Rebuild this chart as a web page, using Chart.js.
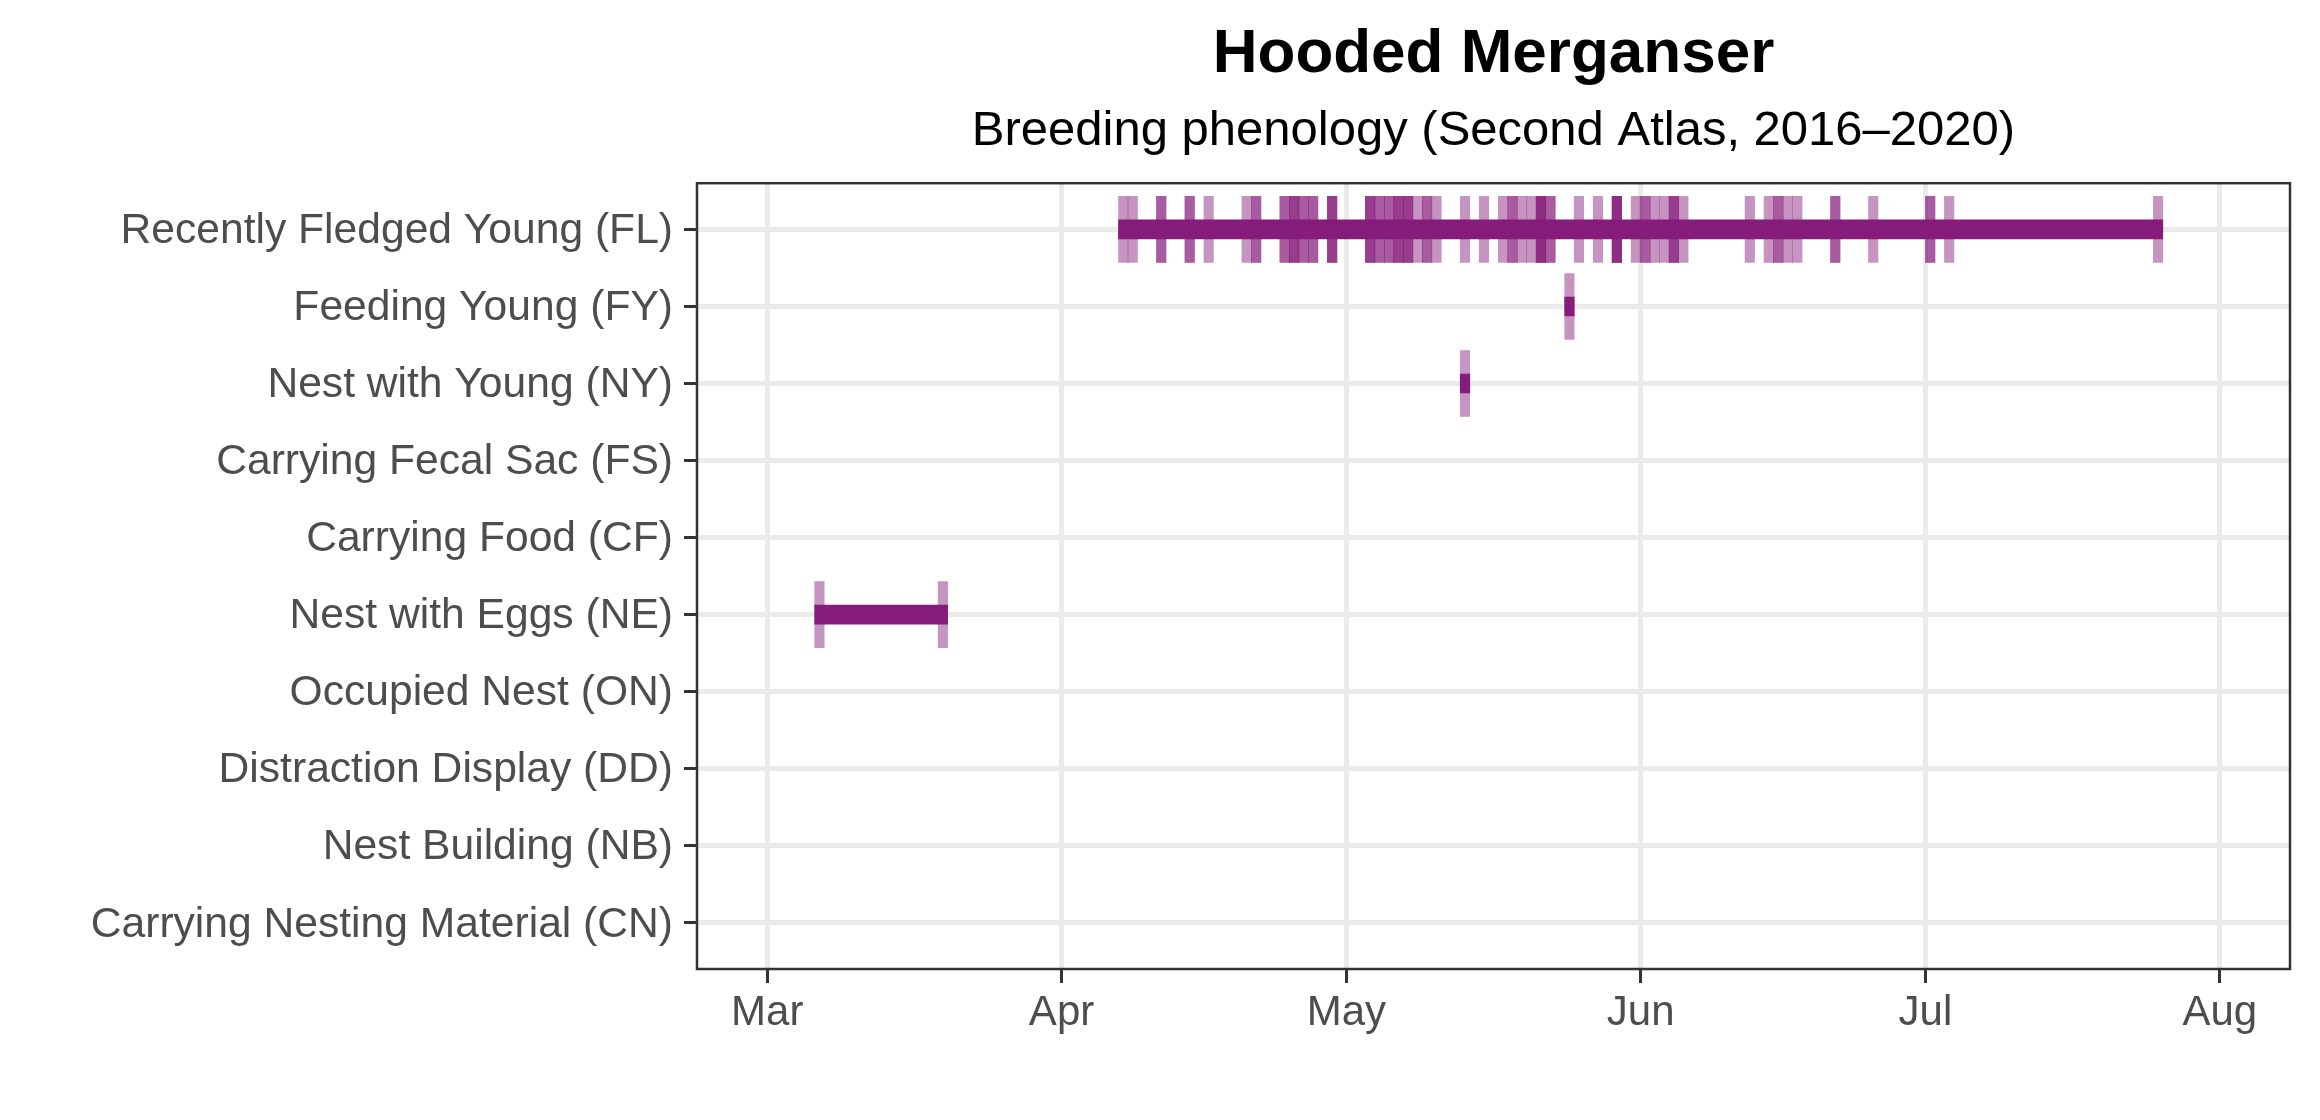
<!DOCTYPE html>
<html>
<head>
<meta charset="utf-8">
<script src="https://cdn.jsdelivr.net/npm/chart.js@4.4.1/dist/chart.umd.min.js"></script>
<style>
  html, body { margin: 0; padding: 0; background: #ffffff; }
  #wrap { width: 2320px; height: 1120px; }
</style>
</head>
<body>
<div id="wrap"><canvas id="phenology" width="2320" height="1120"></canvas></div>
<script>
// Breeding codes, top to bottom
const rowLabels = [
  'Recently Fledged Young (FL)',
  'Feeding Young (FY)',
  'Nest with Young (NY)',
  'Carrying Fecal Sac (FS)',
  'Carrying Food (CF)',
  'Nest with Eggs (NE)',
  'Occupied Nest (ON)',
  'Distraction Display (DD)',
  'Nest Building (NB)',
  'Carrying Nesting Material (CN)'
];

// month ticks as day of year
const monthTicks = [60, 91, 121, 152, 182, 213];
const monthLabels = ['Mar', 'Apr', 'May', 'Jun', 'Jul', 'Aug'];

// observation days (day of year), repeated days = several records
const flDays = [97, 98, 101, 101, 104, 104, 106, 110, 111, 111, 114, 114,
  115, 115, 115, 116, 116, 117, 117, 119, 119, 119, 123, 123, 123, 124, 124,
  125, 125, 126, 126, 126, 127, 127, 127, 128, 129, 129, 130, 133, 135, 137,
  138, 138, 139, 140, 141, 141, 141, 141, 142, 142, 145, 147, 149, 149, 149,
  149, 151, 152, 152, 153, 154, 155, 155, 155, 156, 163, 165, 166, 166, 167,
  168, 172, 172, 176, 182, 182, 184, 206];
const fyDays = [144];
const nyDays = [133];
const fsDays = [];
const cfDays = [];
const neDays = [65, 78];
const onDays = [];
const ddDays = [];
const nbDays = [];
const cnDays = [];

const purple = 'rgb(133, 27, 123)';
const purpleLight = 'rgba(133, 27, 123, 0.47)';
const textGrey = '#4D4D4D';
const fontFamily = '"Liberation Sans", Arial, Helvetica, sans-serif';

Chart.defaults.font.family = fontFamily;

document.addEventListener('DOMContentLoaded', function () {
  const dayRows = [flDays, fyDays, nyDays, fsDays, cfDays, neDays, onDays, ddDays, nbDays, cnDays];

  // one short bar per record, one long bar per code from first to last record
  const marks = [];
  const ranges = [];
  dayRows.forEach((days, row) => {
    days.forEach(d => marks.push({ x: [d, d + 1], y: row }));
    if (days.length) {
      ranges.push({ x: [Math.min(...days), Math.max(...days) + 1], y: row });
    }
  });

  const panelBorder = {
    id: 'panelBorder',
    afterDatasetsDraw(chart) {
      const { ctx, chartArea: a } = chart;
      ctx.save();
      ctx.strokeStyle = '#333333';
      ctx.lineWidth = 2.5;
      ctx.strokeRect(a.left, a.top, a.right - a.left, a.bottom - a.top);
      ctx.restore();
    }
  };

  const ctx = document.getElementById('phenology').getContext('2d');
  new Chart(ctx, {
    type: 'bar',
    data: {
      datasets: [
        {
          label: 'Range',
          data: ranges,
          backgroundColor: purple,
          borderWidth: 0,
          barThickness: 19,
          grouped: false,
          order: 0
        },
        {
          label: 'Records',
          data: marks,
          backgroundColor: purpleLight,
          borderWidth: 0,
          barThickness: 66,
          grouped: false,
          order: 1
        }
      ]
    },
    options: {
      indexAxis: 'y',
      responsive: false,
      animation: false,
      devicePixelRatio: 1,
      layout: { padding: { left: 0, right: 30, top: 0, bottom: 0 } },
      plugins: {
        legend: { display: false },
        tooltip: { enabled: false },
        title: {
          display: true,
          text: 'Hooded Merganser',
          color: '#000000',
          fullSize: false,
          font: { size: 62, weight: 'bold' },
          padding: { top: 18, bottom: 0 }
        },
        subtitle: {
          display: true,
          text: 'Breeding phenology (Second Atlas, 2016\u20132020)',
          color: '#000000',
          fullSize: false,
          font: { size: 49 },
          padding: { top: 10, bottom: 22 }
        }
      },
      scales: {
        x: {
          type: 'linear',
          min: 52.6,
          max: 220.4,
          afterBuildTicks: scale => {
            scale.ticks = monthTicks.map(v => ({ value: v }));
          },
          afterFit: scale => { scale.height = 151; },
          ticks: {
            color: textGrey,
            font: { size: 42 },
            padding: 5,
            maxRotation: 0,
            callback: value => monthLabels[monthTicks.indexOf(value)]
          },
          grid: {
            color: '#EBEBEB',
            lineWidth: 5,
            tickColor: '#333333',
            tickWidth: 3,
            tickLength: 14
          },
          border: { display: false }
        },
        y: {
          type: 'linear',
          reverse: true,
          offset: false,
          min: -0.6,
          max: 9.6,
          afterBuildTicks: scale => {
            scale.ticks = rowLabels.map((_, i) => ({ value: i }));
          },
          afterFit: scale => { scale.width = 697; },
          ticks: {
            color: textGrey,
            font: { size: 42.6 },
            padding: 11,
            labelOffset: 2,
            callback: value => rowLabels[value]
          },
          grid: {
            offset: false,
            color: '#EBEBEB',
            lineWidth: 5,
            tickColor: '#333333',
            tickWidth: 3,
            tickLength: 13
          },
          border: { display: false }
        }
      }
    },
    plugins: [panelBorder]
  });
});
</script>
</body>
</html>
